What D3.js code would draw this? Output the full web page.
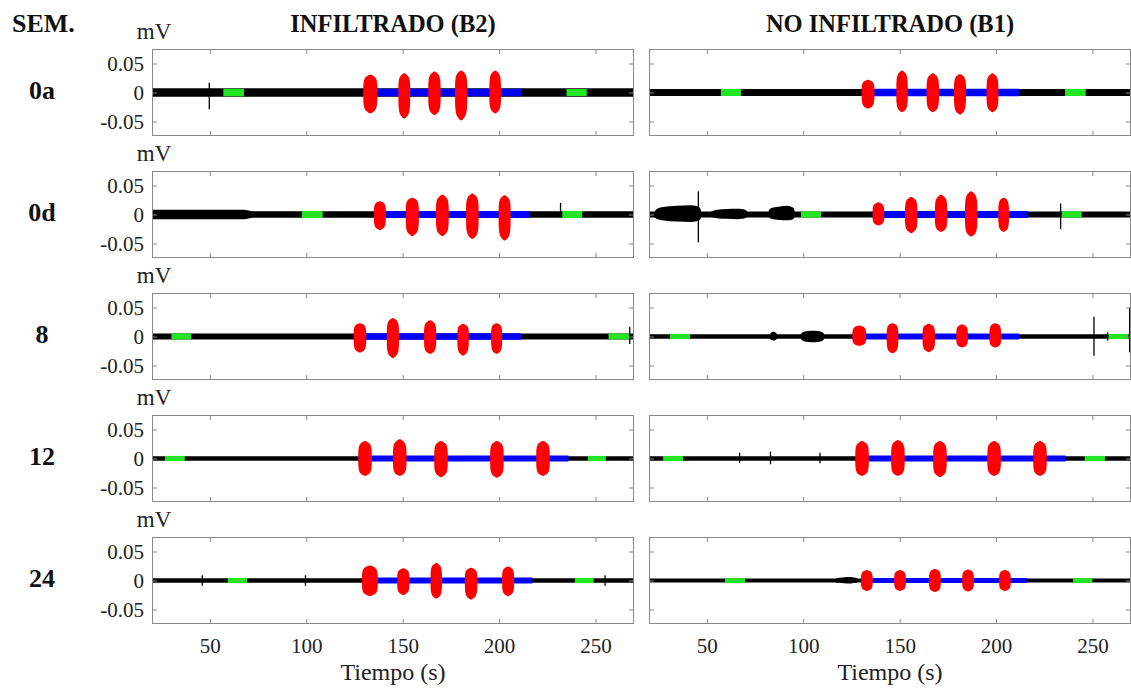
<!DOCTYPE html>
<html>
<head>
<meta charset="utf-8">
<script src="https://cdn.jsdelivr.net/npm/d3@7"></script>
<style>
  body { margin: 0; background: #fff; }
  svg { display: block; }
  svg text { font-family: "Liberation Serif", "Times New Roman", Times, "DejaVu Serif", serif; }
</style>
</head>
<body>
<svg id="chart" width="1131" height="688"></svg>
<script>
// ---- Labels and axes ----
const weeks = ["0a", "0d", "8", "12", "24"];
const groups = ["INFILTRADO (B2)", "NO INFILTRADO (B1)"];
const xDomain = [20, 270];
const yDomain = [-0.075, 0.075];
const xTicks = [50, 100, 150, 200, 250];
const yTicks = [-0.05, 0, 0.05];

// ---- Baseline noise envelope per week: [t (s), half-amplitude (mV)] ----
const baseB2 = [
  [[20, 0.0075], [270, 0.0075]],
  [[20, 0.0080], [68, 0.0080], [72, 0.0055], [270, 0.0055]],
  [[20, 0.0050], [270, 0.0050]],
  [[20, 0.0040], [270, 0.0040]],
  [[20, 0.0040], [270, 0.0040]]
];
const baseB1 = [
  [[20, 0.0060], [270, 0.0060]],
  [[20, 0.0050], [270, 0.0050]],
  [[20, 0.0040], [270, 0.0040]],
  [[20, 0.0040], [270, 0.0040]],
  [[20, 0.0035], [270, 0.0035]]
];

// ---- Rest windows (green): [start, end, half-amplitude] ----
const greenB2 = [
  [[57.0, 67.7, 0.0065], [235.0, 245.5, 0.0060]],
  [[97.8, 108.5, 0.0060], [232.8, 243.1, 0.0060]],
  [[30.1, 40.3, 0.0050], [256.8, 267.5, 0.0050]],
  [[26.7, 37.0, 0.0045], [246.0, 255.4, 0.0045]],
  [[59.3, 69.3, 0.0045], [239.3, 249.1, 0.0045]]
];
const greenB1 = [
  [[57.3, 67.7, 0.0060], [235.8, 246.5, 0.0060]],
  [[98.8, 109.2, 0.0055], [234.0, 244.4, 0.0055]],
  [[30.9, 41.3, 0.0045], [258.2, 268.6, 0.0045]],
  [[27.3, 37.6, 0.0045], [246.0, 256.5, 0.0045]],
  [[59.4, 69.8, 0.0040], [240.0, 250.0, 0.0040]]
];

// ---- Task window (blue): [start, end, half-amplitude] ----
const blueB2 = [
  [129.6, 211.4, 0.0065],
  [135.1, 215.9, 0.0060],
  [124.6, 211.4, 0.0055],
  [127.0, 236.0, 0.0050],
  [128.9, 217.3, 0.0050]
];
const blueB1 = [
  [130.3, 211.9, 0.0065],
  [136.0, 216.7, 0.0060],
  [125.5, 211.9, 0.0050],
  [127.0, 236.0, 0.0050],
  [130.0, 216.0, 0.0045]
];

// ---- Contractions (red): [start, end, max, min] ----
const burstsB2 = [
  [[129.6, 136.9, 0.031, -0.036], [147.8, 153.9, 0.033, -0.045], [163.3, 169.7, 0.036, -0.039], [177.2, 183.5, 0.038, -0.048], [195.0, 201.0, 0.038, -0.036]],
  [[135.1, 141.3, 0.023, -0.027], [151.6, 158.4, 0.029, -0.037], [167.3, 173.9, 0.034, -0.037], [182.9, 189.4, 0.036, -0.042], [199.8, 206.0, 0.033, -0.045]],
  [[124.6, 131.1, 0.023, -0.028], [141.8, 148.1, 0.032, -0.037], [161.1, 167.4, 0.028, -0.030], [178.4, 184.3, 0.022, -0.033], [195.9, 201.6, 0.023, -0.030]],
  [[127.0, 134.0, 0.030, -0.030], [145.0, 152.0, 0.033, -0.030], [166.4, 173.4, 0.030, -0.032], [195.4, 202.4, 0.030, -0.033], [219.3, 226.3, 0.030, -0.030]],
  [[128.9, 137.1, 0.026, -0.027], [147.2, 153.5, 0.021, -0.025], [164.5, 170.4, 0.030, -0.031], [182.3, 188.7, 0.022, -0.033], [201.6, 207.8, 0.024, -0.027]]
];
const burstsB1 = [
  [[130.3, 136.9, 0.022, -0.028], [148.3, 154.2, 0.038, -0.034], [164.0, 170.4, 0.033, -0.034], [178.2, 184.4, 0.032, -0.038], [195.1, 201.2, 0.033, -0.034]],
  [[136.0, 142.0, 0.021, -0.019], [152.8, 159.2, 0.030, -0.032], [168.3, 174.7, 0.034, -0.030], [183.9, 190.3, 0.040, -0.038], [201.2, 206.7, 0.029, -0.030]],
  [[125.5, 132.6, 0.019, -0.016], [143.3, 149.3, 0.023, -0.029], [161.9, 168.3, 0.022, -0.027], [179.4, 185.4, 0.021, -0.019], [196.6, 202.6, 0.023, -0.019]],
  [[127.0, 134.0, 0.030, -0.030], [145.6, 152.6, 0.032, -0.030], [167.4, 174.4, 0.030, -0.032], [195.5, 202.5, 0.030, -0.030], [219.3, 226.3, 0.030, -0.030]],
  [[130.0, 136.0, 0.018, -0.018], [147.2, 153.2, 0.018, -0.018], [165.3, 171.3, 0.020, -0.020], [182.5, 188.5, 0.019, -0.019], [201.6, 207.6, 0.018, -0.018]]
];

// ---- Black noise episodes outside the task: [start, peak, end, max, min] ----
const lumpsB2 = [[], [], [], [], []];
const lumpsB1 = [
  [],
  [[23, 42, 47, 0.016, -0.013], [52, 66, 71, 0.010, -0.008], [82, 92, 95.5, 0.015, -0.010]],
  [[82.8, 84.5, 86.3, 0.0080, -0.007], [98.8, 105, 110.8, 0.010, -0.010]],
  [],
  [[117, 124, 128, 0.006, -0.005]]
];

// ---- Isolated artefacts: [t, max, min] ----
const spikesB2 = [
  [[49.7, 0.017, -0.029]],
  [[231.9, 0.020, 0.0]],
  [[267.8, 0.017, -0.013]],
  [],
  [[46.1, 0.009, -0.009], [99.6, 0.009, -0.009], [255.0, 0.009, -0.009]]
];
const spikesB1 = [
  [],
  [[45.6, 0.040, -0.048], [233.5, 0.019, -0.025]],
  [[250.8, 0.034, -0.033], [257.9, 0.007, -0.007], [269.3, 0.050, -0.027]],
  [[67.0, 0.010, -0.008], [83.0, 0.012, -0.010], [108.7, 0.010, -0.008]],
  []
];

// ---- Layout ----
const colLeft = [152, 649];
const plotW = 482;
const rowTop0 = 49, rowStep = 122, plotH = 87;
const axisColor = "#8a8a8a";
const textColor = "#222";
const COLORS = { base: "#000000", green: "#22e622", blue: "#0000ff", red: "#ff0000" };

// Burst silhouette: relative positions along the burst and relative heights
const PROFILE_POS = [0, 0.03, 0.12, 0.3, 0.5, 0.7, 0.88, 0.97, 1];
const PROFILE_AMP = [0.38, 0.6, 0.8, 0.93, 1, 0.93, 0.8, 0.6, 0.38];

const svg = d3.select("#chart");
const defs = svg.append("defs");

const series = {
  base: [baseB2, baseB1], green: [greenB2, greenB1], blue: [blueB2, blueB1],
  bursts: [burstsB2, burstsB1], lumps: [lumpsB2, lumpsB1], spikes: [spikesB2, spikesB1]
};

function spindle(xs, ys, t0, tp, t1, hi, lo, floor) {
  const pts = PROFILE_POS.map((p, i) => {
    const t = p <= 0.5 ? t0 + (tp - t0) * (p / 0.5) : tp + (t1 - tp) * ((p - 0.5) / 0.5);
    const a = PROFILE_AMP[i];
    return [t, Math.max(floor, hi * a), Math.min(-floor, lo * a)];
  });
  return d3.area()
    .x(d => xs(d[0]))
    .y0(d => ys(d[2]))
    .y1(d => ys(d[1]))
    .curve(d3.curveMonotoneX)(pts);
}

const band = (xs, ys) => d3.area().x(d => xs(d[0])).y0(d => ys(-d[1])).y1(d => ys(d[1]));

weeks.forEach((wk, r) => {
  const top = rowTop0 + r * rowStep;
  const ys = d3.scaleLinear().domain(yDomain).range([top + plotH, top]);

  // week label
  svg.append("text")
    .attr("x", 42).attr("y", ys(0) + 6.5)
    .attr("text-anchor", "middle")
    .attr("font-weight", "bold").attr("font-size", 26)
    .attr("fill", "#111")
    .text(wk);

  // unit label
  svg.append("text")
    .attr("x", 154).attr("y", top - 10)
    .attr("text-anchor", "middle")
    .attr("font-size", 23)
    .attr("fill", textColor)
    .text("mV");

  [0, 1].forEach(c => {
    const xs = d3.scaleLinear().domain(xDomain).range([colLeft[c], colLeft[c] + plotW]);
    const g = svg.append("g");
    const clipId = `clip-${r}-${c}`;
    defs.append("clipPath").attr("id", clipId)
      .append("rect").attr("x", colLeft[c]).attr("y", top).attr("width", plotW).attr("height", plotH);
    const sig = g.append("g").attr("clip-path", `url(#${clipId})`);

    // baseline noise band
    sig.append("path")
      .attr("d", band(xs, ys)(series.base[c][r]))
      .attr("fill", COLORS.base);

    // black noise episodes
    series.lumps[c][r].forEach(l => {
      sig.append("path")
        .attr("d", spindle(xs, ys, l[0], l[1], l[2], l[3], l[4], 0.004))
        .attr("fill", COLORS.base);
    });

    // task window
    const b = series.blue[c][r];
    sig.append("path")
      .attr("d", band(xs, ys)([[b[0], b[2]], [b[1], b[2]]]))
      .attr("fill", COLORS.blue);

    // rest windows
    series.green[c][r].forEach(gw => {
      sig.append("path")
        .attr("d", band(xs, ys)([[gw[0], gw[2]], [gw[1], gw[2]]]))
        .attr("fill", COLORS.green);
    });

    // contractions
    series.bursts[c][r].forEach(bu => {
      sig.append("path")
        .attr("d", spindle(xs, ys, bu[0], (bu[0] + bu[1]) / 2, bu[1], bu[2], bu[3], 0.005))
        .attr("fill", COLORS.red);
    });

    // artefact spikes
    series.spikes[c][r].forEach(s => {
      sig.append("line")
        .attr("x1", xs(s[0])).attr("x2", xs(s[0]))
        .attr("y1", ys(s[1])).attr("y2", ys(s[2]))
        .attr("stroke", COLORS.base).attr("stroke-width", 1.3);
    });

    // axes: inward ticks on all four sides
    const fmtY = d => d === 0 ? "0" : (d < 0 ? "-" : "") + Math.abs(d).toFixed(2);
    const styleAxis = sel => {
      sel.select(".domain").remove();
      sel.attr("font-family", null);
      sel.selectAll(".tick line").attr("stroke", axisColor);
      sel.selectAll(".tick text").attr("font-size", 21).attr("fill", textColor);
    };
    g.append("g").attr("transform", `translate(${colLeft[c]},0)`)
      .call(d3.axisLeft(ys).tickValues(yTicks).tickSizeInner(-5).tickSizeOuter(0).tickPadding(8)
        .tickFormat(c === 0 ? fmtY : () => ""))
      .call(styleAxis);
    g.append("g").attr("transform", `translate(${colLeft[c] + plotW},0)`)
      .call(d3.axisRight(ys).tickValues(yTicks).tickSizeInner(-5).tickSizeOuter(0).tickFormat(() => ""))
      .call(styleAxis);
    g.append("g").attr("transform", `translate(0,${top + plotH})`)
      .call(d3.axisBottom(xs).tickValues(xTicks).tickSizeInner(-5).tickSizeOuter(0).tickPadding(14)
        .tickFormat(r === weeks.length - 1 ? d3.format("d") : () => ""))
      .call(styleAxis);
    g.append("g").attr("transform", `translate(0,${top})`)
      .call(d3.axisTop(xs).tickValues(xTicks).tickSizeInner(-5).tickSizeOuter(0).tickFormat(() => ""))
      .call(styleAxis);

    // frame
    g.append("rect")
      .attr("x", colLeft[c] + 0.5).attr("y", top + 0.5)
      .attr("width", plotW - 1).attr("height", plotH - 1)
      .attr("fill", "none").attr("stroke", axisColor).attr("stroke-width", 1);

    if (r === weeks.length - 1) {
      svg.append("text")
        .attr("x", colLeft[c] + plotW / 2).attr("y", 680)
        .attr("text-anchor", "middle")
        .attr("font-size", 24)
        .attr("fill", textColor)
        .text("Tiempo (s)");
    }
  });
});

// column titles
groups.forEach((t, c) => {
  svg.append("text")
    .attr("x", colLeft[c] + plotW / 2).attr("y", 32)
    .attr("text-anchor", "middle")
    .attr("font-weight", "bold").attr("font-size", 24.5)
    .attr("fill", "#111")
    .text(t);
});

svg.append("text")
  .attr("x", 12).attr("y", 32)
  .attr("font-weight", "bold").attr("font-size", 26)
  .attr("fill", "#111")
  .text("SEM.");
</script>
</body>
</html>
